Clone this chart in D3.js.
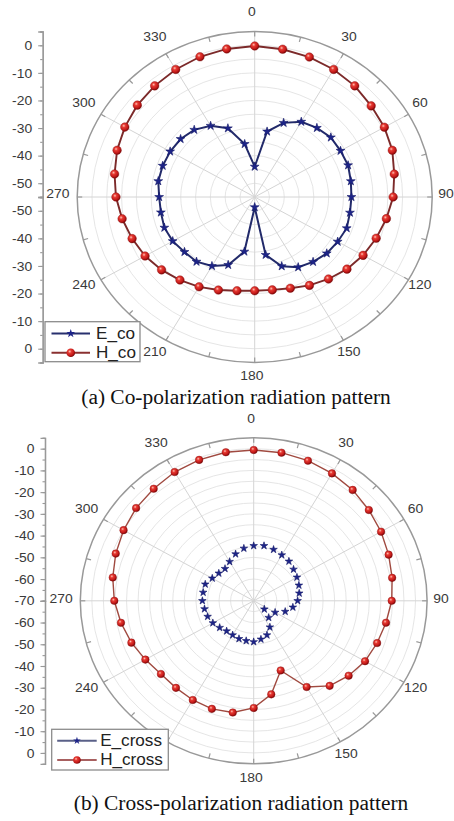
<!DOCTYPE html>
<html><head><meta charset="utf-8">
<script src="https://cdn.jsdelivr.net/npm/d3@7"></script>
<style>html,body{margin:0;padding:0;background:#fff;overflow:hidden}</style>
</head><body>
<svg id="c" width="454" height="821"></svg>
<script>
// ---------- data ----------
const angles = [0,10,20,30,40,50,60,70,80,90,100,110,120,130,140,150,160,170,
                180,190,200,210,220,230,240,250,260,270,280,290,300,310,320,330,340,350];
const eCo = [-44,-30.9,-26.4,-23.5,-22.3,-21.4,-21.5,-21.4,-22,-22.3,-22.3,-21.9,-22.6,-23.2,-24.3,-25.6,-28.3,-33.7,
             -51.3,-34.9,-28.8,-26.1,-24.4,-24,-23,-22.5,-22.8,-22.7,-21.9,-21.9,-22,-22.3,-23.2,-25.2,-28.5,-35.5];
const hCo = [-0.25,-0.6,-1.0,-1.6,-2.4,-3.6,-4.4,-5.5,-7.1,-8.2,-9.8,-11.3,-12.7,-14.3,-16.2,-18,-19.8,-20.8,
             -21,-20.5,-19.1,-17.4,-15.7,-13.9,-12.2,-10.9,-9.5,-8.1,-6.9,-5.5,-4.3,-3.2,-2.4,-1.6,-0.9,-0.5];
const eCross = [-44.7,-44.3,-44.9,-45.7,-46.3,-47.5,-48.4,-49.2,-50,-51,-52.8,-55.5,-59.3,-64,-59.9,-56,-53.2,-52,
                -51.1,-51.3,-51.4,-51.8,-51.8,-50.8,-49.6,-48.8,-48.4,-47.8,-47.8,-47.7,-49.3,-50.3,-50.7,-49.2,-47.1,-45.5];
const hCross = [-0.6,-0.8,-1.4,-2.3,-3.4,-5,-6.4,-7.9,-9.2,-10.3,-11.9,-13.2,-14.4,-16.4,-18.9,-24.2,-35.9,-26.3,
                -20.7,-17.8,-17.1,-17.3,-17.7,-17.6,-15.9,-13.7,-11.7,-9.7,-8.1,-6.5,-5,-3.6,-2.7,-1.6,-1,-0.6];
const angleTicks = [0,30,60,90,120,150,180,210,240,270,300,330];
const radTicksCo = [0,-10,-20,-30,-40,-50];
const radTicksCrossTop = [0,-10,-20,-30,-40,-50,-60,-70];
const radTicksCrossBot = [0,-10,-20,-30,-40,-50,-60];
const seriesNamesCo = ["E_co","H_co"];
const seriesNamesCross = ["E_cross","H_cross"];
const captions = ["(a) Co-polarization radiation pattern","(b) Cross-polarization radiation pattern"];

// ---------- drawing ----------
const STRETCH = 1.07;   // the source picture is slightly wider than tall
const svg = d3.select("#c");
const defs = svg.append("defs");
const g0 = defs.append("radialGradient").attr("id","sph").attr("cx","38%").attr("cy","35%").attr("r","65%");
g0.append("stop").attr("offset","0%").attr("stop-color","#ffc4b8");
g0.append("stop").attr("offset","30%").attr("stop-color","#e63a32");
g0.append("stop").attr("offset","75%").attr("stop-color","#c01818");
g0.append("stop").attr("offset","100%").attr("stop-color","#7a0606");

const SANS = "'Liberation Sans', Arial, sans-serif";
const SERIF = "'Liberation Serif', 'Times New Roman', serif";

function stretchedText(sel, x, y){
  return sel.attr("x",0).attr("y",0).attr("transform",`translate(${x},${y}) scale(${STRETCH},1)`);
}

function panel(cfg){
  const g = svg.append("g");
  const {cx, cy, rx, ry, min, max} = cfg;
  const sx = d3.scaleLinear().domain([min,max]).range([0,rx]);
  const sy = d3.scaleLinear().domain([min,max]).range([0,ry]);
  const rad = d => d*Math.PI/180;
  const px = (a,v) => cx + sx(v)*Math.sin(rad(a));
  const py = (a,v) => cy - sy(v)*Math.cos(rad(a));

  // grid circles every 5 dB
  const gridVals = d3.range(min+5, max, 5);
  g.selectAll(".gc").data(gridVals).enter().append("ellipse")
    .attr("cx",cx).attr("cy",cy).attr("rx",d=>sx(d)).attr("ry",d=>sy(d))
    .attr("fill","none").attr("stroke","#e2e2e2").attr("stroke-width",0.9);
  // spokes
  g.selectAll(".sp").data(angleTicks).enter().append("line")
    .attr("x1",cx).attr("y1",cy).attr("x2",d=>px(d,max)).attr("y2",d=>py(d,max))
    .attr("stroke","#d4d4d4").attr("stroke-width",1);
  // outer circle
  g.append("ellipse").attr("cx",cx).attr("cy",cy).attr("rx",sx(max)).attr("ry",sy(max))
    .attr("fill","none").attr("stroke","#999").attr("stroke-width",1.5);
  // ticks on outer circle every 15 deg
  const tickAng = d3.range(0,360,15);
  g.selectAll(".ot").data(tickAng).enter().append("line")
    .attr("x1",d=>cx + (sx(max))*Math.sin(rad(d))).attr("y1",d=>cy - (sy(max))*Math.cos(rad(d)))
    .attr("x2",d=>cx + (sx(max)-5)*Math.sin(rad(d))).attr("y2",d=>cy - (sy(max)-5)*Math.cos(rad(d)))
    .attr("stroke","#999").attr("stroke-width",1.2);
  // angle labels
  g.selectAll(".al").data(angleTicks.filter(a=>!(cfg.hideAngle||[]).includes(a))).enter().append("text")
    .each(function(d){
      stretchedText(d3.select(this),
        cx + (sx(max)+cfg.pad)*Math.sin(rad(d)) + cfg.lox,
        cy - (sy(max)+cfg.pad)*Math.cos(rad(d)) + cfg.loy);
    })
    .attr("text-anchor","middle").attr("dominant-baseline","central")
    .attr("font-family",SANS).attr("font-size",13).attr("fill","#3a3a3a").text(d=>d);

  // left radial axis
  const yTop = d3.scaleLinear().domain([min,max]).range([cy, cy-ry]);
  const yBot = d3.scaleLinear().domain([min,max]).range([cy, cy+ry]);
  const minor = d3.range(max, min-0.1, -5);
  const ax = g.append("g").attr("transform",`translate(${cfg.axX},0)`);
  [yTop,yBot].forEach((sc,i)=>{
    const a1 = ax.append("g").call(d3.axisLeft(sc).tickValues(minor).tickSize(2.5).tickFormat(""));
    const a2 = ax.append("g").call(d3.axisLeft(sc).tickValues(i===0?cfg.ticksTop:cfg.ticksBot)
        .tickSize(4.5).tickPadding(6).tickFormat(d=>String(d)));
    [a1,a2].forEach(a=>{
      a.select(".domain").attr("stroke","#999").attr("stroke-width",1.3);
      a.selectAll(".tick line").attr("stroke","#999").attr("stroke-width",1.1);
      a.selectAll(".tick text").attr("font-family",SANS).attr("font-size",13).attr("fill","#3a3a3a")
        .attr("transform",`scale(${STRETCH},1)`).attr("x",-10.5/STRETCH);
    });
  });

  // series
  const line = d3.line().x(d=>px(d.a,d.v)).y(d=>py(d.a,d.v)).curve(d3.curveLinearClosed);
  const toPts = arr => arr.map((v,i)=>({a:angles[i], v}));
  const E = toPts(cfg.e), H = toPts(cfg.h);
  if (cfg.eLine) g.append("path").attr("d",line(E)).attr("fill","none").attr("stroke","#222a6a").attr("stroke-width",2);
  g.append("path").attr("d",line(H)).attr("fill","none").attr("stroke",cfg.hLineColor).attr("stroke-width",cfg.hLineW);
  const star = d3.symbol().type(d3.symbolStar).size(cfg.starSize);
  g.selectAll(".st").data(E).enter().append("path").attr("d",star)
    .attr("transform",d=>`translate(${px(d.a,d.v)},${py(d.a,d.v)})`)
    .attr("fill","#1d2488").attr("stroke","#141a6a").attr("stroke-width",0.6);
  g.selectAll(".sph").data(H).enter().append("circle")
    .attr("cx",d=>px(d.a,d.v)).attr("cy",d=>py(d.a,d.v)).attr("r",cfg.sphR)
    .attr("fill","url(#sph)").attr("stroke","#8a1010").attr("stroke-width",0.4);

  // legend
  const L = cfg.legend;
  const lg = g.append("g");
  lg.append("rect").attr("x",L.x).attr("y",L.y).attr("width",L.w).attr("height",L.h)
    .attr("fill","#fff").attr("stroke","#8c8c8c").attr("stroke-width",1.3);
  cfg.names.forEach((nm,i)=>{
    const yy = L.y + L.row0 + i*L.dy;
    lg.append("line").attr("x1",L.x+L.l1).attr("x2",L.x+L.l2).attr("y1",yy).attr("y2",yy)
      .attr("stroke", i===0 ? L.eCol : L.hCol).attr("stroke-width",1.9);
    const mx = L.x + (L.l1+L.l2)/2;
    if (i===0) lg.append("path").attr("d",d3.symbol().type(d3.symbolStar).size(cfg.starSize)())
      .attr("transform",`translate(${mx},${yy})`).attr("fill","#1d2488");
    else lg.append("circle").attr("cx",mx).attr("cy",yy).attr("r",cfg.sphR).attr("fill","url(#sph)");
    stretchedText(lg.append("text"), L.x+L.tx, yy).attr("dominant-baseline","central")
      .attr("font-family",SANS).attr("font-size",L.fs).attr("fill","#222").text(nm);
  });

  // caption
  stretchedText(svg.append("text"), cfg.capX, cfg.capY).attr("text-anchor","middle")
    .attr("font-family",SERIF).attr("font-size",cfg.capFs).attr("fill","#111").text(cfg.caption);
}

panel({cx:254.7, cy:197, rx:177.5, ry:165.5, min:-55, max:5,
  e:eCo, h:hCo, eLine:true, hLineColor:"#7c2a2a", hLineW:1.9,
  starSize:24, sphR:4.3, pad:16.5, lox:-2.8, loy:-3,
  axX:42.7, ticksTop:radTicksCo, ticksBot:radTicksCo,
  names:seriesNamesCo,
  legend:{x:45, y:321.7, w:95, h:40, row0:11.8, dy:19.3, l1:6.5, l2:45, tx:51, fs:16,
          eCol:"#28306e", hCol:"#8a3030"},
  caption:captions[0], capX:236, capY:404, capFs:20});

panel({cx:253.7, cy:600.8, rx:173.4, ry:163, min:-70, max:5,
  e:eCross, h:hCross, eLine:false, hLineColor:"#a04a40", hLineW:1.4,
  starSize:18, sphR:3.8, pad:16.5, lox:-2.6, loy:-2.5, hideAngle:[210],
  axX:45, ticksTop:radTicksCrossTop, ticksBot:radTicksCrossBot,
  names:seriesNamesCross,
  legend:{x:51.7, y:729.3, w:116.6, h:40.7, row0:11.4, dy:19.3, l1:5.5, l2:45, tx:48.5, fs:16,
          eCol:"#5a6088", hCol:"#a86060"},
  caption:captions[1], capX:241, capY:810, capFs:20});
</script>
</body></html>
